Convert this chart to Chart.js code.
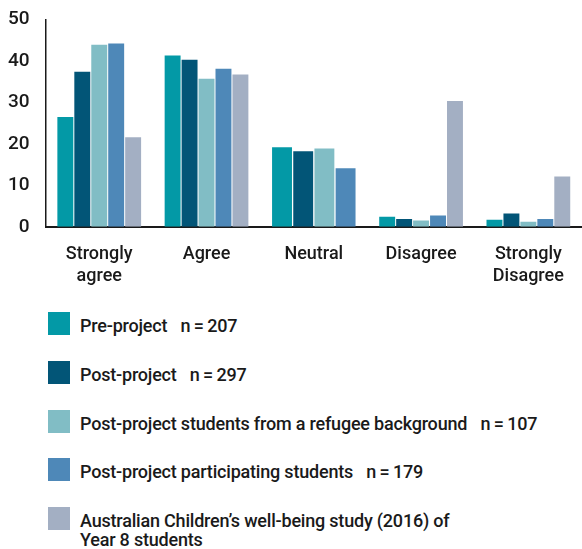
<!DOCTYPE html>
<html>
<head>
<meta charset="utf-8">
<script src="https://cdn.jsdelivr.net/npm/chart.js@4.4.0/dist/chart.umd.min.js"></script>
<style>
  body { margin: 0; background: #fff; font-family: Roboto, "Liberation Sans", sans-serif; color: #1a1a1a; }
  #wrap { position: relative; width: 582px; height: 296px; }
  #legend { position: absolute; left: 48px; top: 312px; width: 530px; }
  .item { position: absolute; left: 0; display: flex; align-items: flex-start; }
  .box { width: 22px; height: 23px; flex: none; }
  .txt { margin-left: 10px; font-size: 18px; font-weight: 500; line-height: 19px; white-space: pre-line; padding-top: 4px; letter-spacing: -0.2px; }
</style>
</head>
<body>
<div id="wrap"><canvas id="chart"></canvas></div>
<div id="legend"></div>
<script>
// ---- data ----
const categories = [["Strongly", "agree"], "Agree", "Neutral", "Disagree", ["Strongly", "Disagree"]];
const seriesLabels = [
    "Pre-project\u2002 n\u2009=\u2009207",
    "Post-project\u2002 n\u2009=\u2009297",
    "Post-project students from a refugee background\u2002 n\u2009=\u2009107",
    "Post-project participating students\u2002 n\u2009=\u2009179",
    "Australian Children\u2019s well-being study (2016) of\nYear 8 students"
];
const preProject            = [26.5, 41.3, 19.2, 2.4, 1.7];
const postProject           = [37.4, 40.3, 18.2, 1.9, 3.2];
const refugeeStudents       = [43.9, 35.7, 18.9, 1.5, 1.2];
const participatingStudents = [44.2, 38.1, 14.1, 2.7, 1.9];
const wellbeingStudy        = [21.6, 36.7, null, 30.3, 12.1];
const yTicks = [0, 10, 20, 30, 40, 50];

const colors = ["#0399a6", "#025577", "#81bdc5", "#4e88b8", "#a3afc3"];
const series = [preProject, postProject, refugeeStudents, participatingStudents, wellbeingStudy];

const datasets = series.map((data, i) => ({
    label: seriesLabels[i],
    data: data,
    backgroundColor: colors[i],
    borderWidth: 0,
    categoryPercentage: 0.79,
    barPercentage: 0.94
}));

const ctx = document.getElementById('chart').getContext('2d');
new Chart(ctx, {
    type: 'bar',
    data: { labels: categories, datasets: datasets },
    options: {
        responsive: true,
        maintainAspectRatio: false,
        animation: false,
        skipNull: true,
        layout: { padding: { top: 10, right: 0, left: 0, bottom: 0 } },
        plugins: {
            legend: { display: false },
            tooltip: { enabled: false }
        },
        scales: {
            x: {
                grid: { display: false },
                border: { color: '#1a1a1a', width: 2 },
                ticks: {
                    color: '#1a1a1a',
                    padding: 9,
                    font: { family: 'Roboto', size: 18, weight: '500' },
                    maxRotation: 0
                }
            },
            y: {
                min: 0,
                max: 50,
                grid: { display: false },
                border: { color: '#1a1a1a', width: 1.5 },
                afterBuildTicks: axis => { axis.ticks = yTicks.map(v => ({ value: v })); },
                ticks: {
                    color: '#1a1a1a',
                    padding: 8,
                    font: { family: 'Roboto', size: 19, weight: '500' }
                }
            }
        }
    }
});

// HTML legend built from the series
const legend = document.getElementById('legend');
seriesLabels.forEach((label, i) => {
    const item = document.createElement('div');
    item.className = 'item';
    item.style.top = (i * 48.75) + 'px';
    item.innerHTML = `<span class="box" style="background:${colors[i]}"></span><span class="txt"></span>`;
    item.querySelector('.txt').textContent = label;
    legend.appendChild(item);
});
</script>
</body>
</html>
